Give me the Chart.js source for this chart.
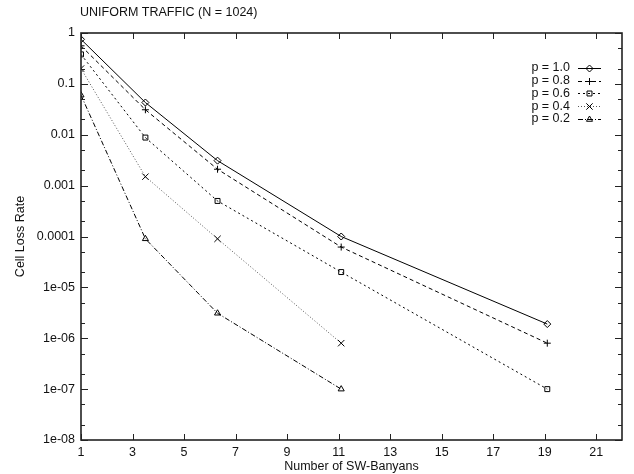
<!DOCTYPE html>
<html>
<head>
<meta charset="utf-8">
<script src="https://cdn.jsdelivr.net/npm/chart.js@4/dist/chart.umd.min.js"></script>
<style>
  body { margin: 0; background: #fff; }
</style>
</head>
<body>
<canvas id="chart" width="634" height="474"></canvas>
<script>
// number of SW-Banyans (x positions of the measured points)
const banyans = [1, 3.5, 6.3, 11.1, 19.1];

// cell loss rate per offered load p
const p10 = [0.75, 0.043, 0.0031, 1.0e-4, 1.9e-6];
const p08 = [0.56, 0.031, 0.0021, 6.2e-5, 8.0e-7];
const p06 = [0.38, 0.0088, 0.0005, 2.0e-5, 1.0e-7];
const p04 = [0.2, 0.0015, 9.0e-5, 8.0e-7];
const p02 = [0.06, 9.0e-5, 3.1e-6, 1.0e-7];

const seriesNames = ['p = 1.0', 'p = 0.8', 'p = 0.6', 'p = 0.4', 'p = 0.2'];

const xTicks = [1, 3, 5, 7, 9, 11, 13, 15, 17, 19, 21];
const yTicks = [1, 0.1, 0.01, 0.001, 0.0001, 1e-5, 1e-6, 1e-7, 1e-8];
const yTickLabels = ['1', '0.1', '0.01', '0.001', '0.0001', '1e-05', '1e-06', '1e-07', '1e-08'];

const FONT = 'Liberation Sans, Arial, Helvetica, sans-serif';
const FSIZE = 12.5;

function pairs(vals) {
    return vals.map((v, i) => ({ x: banyans[i], y: v }));
}

function makeSet(label, vals, dash, marker, color, r) {
    return {
        label: label,
        data: pairs(vals),
        borderColor: color,
        borderWidth: 1,
        borderDash: dash,
        pointStyle: marker,
        pointRadius: r,
        pointBorderColor: '#000',
        pointBorderWidth: 1,
        pointBackgroundColor: 'rgba(0,0,0,0)',
        fill: false,
        tension: 0
    };
}

const datasets = [
    makeSet(seriesNames[0], p10, [], 'rectRot', '#000', 3.5),
    makeSet(seriesNames[1], p08, [4, 3], 'cross', '#000', 3.5),
    makeSet(seriesNames[2], p06, [2, 3], 'rect', '#000', 3.5),
    makeSet(seriesNames[3], p04, [1, 2], 'crossRot', '#555', 4.5),
    makeSet(seriesNames[4], p02, [5, 2, 1, 2], 'triangle', '#000', 3.5)
];

// frame, inward ticks, title and gnuplot-like legend
const decorations = {
    id: 'decorations',
    afterDraw(chart) {
        const ctx = chart.ctx;
        const a = chart.chartArea;
        const xs = chart.scales.x;
        const ys = chart.scales.y;
        ctx.save();
        ctx.strokeStyle = '#222';
        ctx.lineWidth = 1;
        ctx.setLineDash([]);
        ctx.beginPath();
        xTicks.forEach(t => {
            const px = Math.round(xs.getPixelForValue(t)) + 0.5;
            ctx.moveTo(px, a.bottom); ctx.lineTo(px, a.bottom - 6);
            ctx.moveTo(px, a.top); ctx.lineTo(px, a.top + 6);
        });
        yTicks.forEach(t => {
            const py = Math.round(ys.getPixelForValue(t)) + 0.5;
            ctx.moveTo(a.left, py); ctx.lineTo(a.left + 7, py);
            ctx.moveTo(a.right, py); ctx.lineTo(a.right - 7, py);
            [2, 5].forEach(m => {
                const v = t * m;
                if (v >= 1) return;
                const my = Math.round(ys.getPixelForValue(v)) + 0.5;
                ctx.moveTo(a.left, my); ctx.lineTo(a.left + 4, my);
                ctx.moveTo(a.right, my); ctx.lineTo(a.right - 4, my);
            });
        });
        ctx.stroke();

        ctx.lineWidth = 1.6;
        ctx.strokeRect(a.left, a.top, a.right - a.left, a.bottom - a.top);

        ctx.fillStyle = '#111';
        ctx.font = FSIZE + 'px ' + FONT;
        ctx.textBaseline = 'middle';
        ctx.textAlign = 'left';
        ctx.fillText('UNIFORM TRAFFIC (N = 1024)', 80, 13);

        // legend
        const textRight = 570, lineL = 578, lineR = 601;
        chart.data.datasets.forEach((ds, i) => {
            const y = 68 + i * 12.7;
            ctx.textAlign = 'right';
            ctx.fillStyle = '#111';
            ctx.fillText(ds.label, textRight, y);
            ctx.strokeStyle = ds.borderColor;
            ctx.lineWidth = 1;
            ctx.setLineDash(ds.borderDash);
            ctx.beginPath();
            ctx.moveTo(lineL, Math.round(y) + 0.5);
            ctx.lineTo(lineR, Math.round(y) + 0.5);
            ctx.stroke();
            ctx.setLineDash([]);
            if (Chart.helpers && Chart.helpers.drawPoint) {
                ctx.strokeStyle = '#000';
                ctx.fillStyle = 'rgba(0,0,0,0)';
                Chart.helpers.drawPoint(ctx, {
                    pointStyle: ds.pointStyle, radius: ds.pointRadius, rotation: 0, borderWidth: 1
                }, (lineL + lineR) / 2, Math.round(y) + 0.5);
            }
        });
        ctx.restore();
    }
};

new Chart(document.getElementById('chart').getContext('2d'), {
    type: 'line',
    data: { datasets: datasets },
    options: {
        responsive: false,
        animation: false,
        layout: { padding: { left: 0, right: 12, top: 33, bottom: 0 } },
        plugins: {
            legend: { display: false },
            title: { display: false },
            tooltip: { enabled: false }
        },
        scales: {
            x: {
                type: 'linear',
                min: 1,
                max: 22,
                afterBuildTicks: axis => { axis.ticks = xTicks.map(v => ({ value: v })); },
                afterFit: axis => { axis.height = 34; },
                grid: { display: false, drawTicks: false },
                border: { display: false },
                ticks: {
                    padding: 5,
                    autoSkip: false,
                    maxRotation: 0,
                    color: '#111',
                    font: { family: FONT, size: FSIZE },
                    callback: v => String(v)
                },
                title: {
                    display: true,
                    text: 'Number of SW-Banyans',
                    color: '#111',
                    padding: { top: 0, bottom: 0 },
                    font: { family: FONT, size: FSIZE }
                }
            },
            y: {
                type: 'logarithmic',
                min: 1e-8,
                max: 1,
                afterBuildTicks: axis => { axis.ticks = yTicks.map(v => ({ value: v })); },
                afterFit: axis => { axis.width = 81; },
                grid: { display: false, drawTicks: false },
                border: { display: false },
                ticks: {
                    padding: 6,
                    autoSkip: false,
                    color: '#111',
                    font: { family: FONT, size: FSIZE },
                    callback: (v, i) => yTickLabels[i]
                },
                title: {
                    display: true,
                    text: 'Cell Loss Rate',
                    color: '#111',
                    padding: { top: 13, bottom: 0 },
                    font: { family: FONT, size: FSIZE }
                }
            }
        }
    },
    plugins: [decorations]
});
</script>
</body>
</html>
